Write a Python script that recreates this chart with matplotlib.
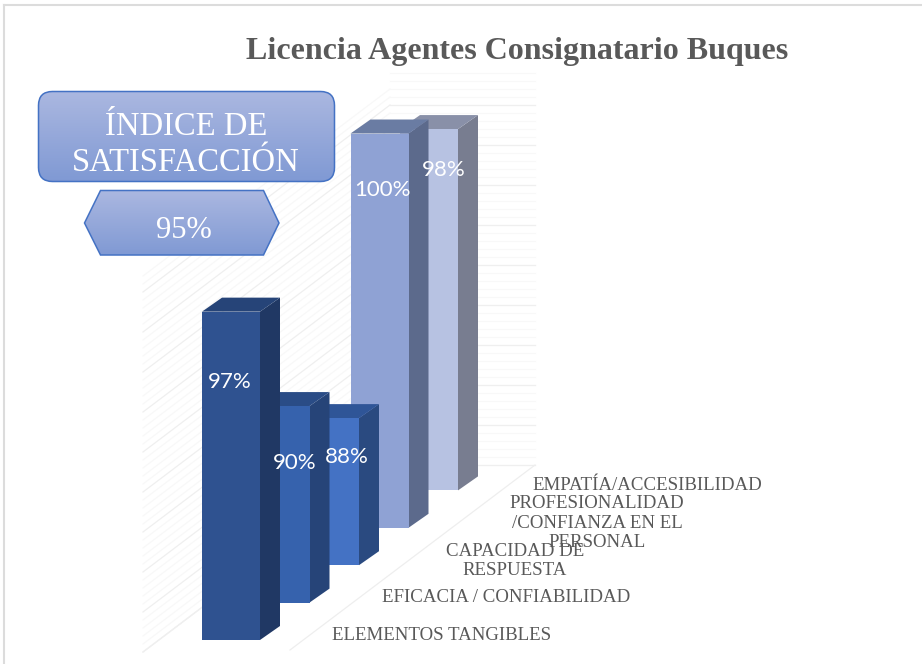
#!/usr/bin/env python
"""Licencia Agentes Consignatario Buques: fake 3D bars drawn on a flat axes."""

import matplotlib
matplotlib.use('Agg')

import matplotlib.pyplot as plt
import numpy as np
from matplotlib.patches import FancyBboxPatch, Polygon, Rectangle

TITLE = 'Licencia Agentes Consignatario Buques'
CATEGORIES = ['ELEMENTOS TANGIBLES', 'EFICACIA / CONFIABILIDAD',
              'CAPACIDAD DE\nRESPUESTA',
              'PROFESIONALIDAD\n/CONFIANZA EN EL\nPERSONAL',
              'EMPATÍA/ACCESIBILIDAD']
VALUES = [96.8, 90.4, 88.0, 100.0, 98.4]
BOX_TEXT = 'ÍNDICE DE\nSATISFACCIÓN'
INDEX_TEXT = '95%'

FRONT = ['#2f5290', '#3662ad', '#4472c4', '#8fa2d4', '#b7c2e2']
SIDE = ['#203864', '#264478', '#2a4a80', '#5c6a8c', '#787d90']
TOP = ['#264478', '#2a4c86', '#2f5597', '#6a7ca3', '#8990a8']
GREY = '#595959'
SERIF = 'Liberation Serif'

# layout of the projection, in pixels of the picture
BAR_W = 58
DEPTH_X, DEPTH_Y = 20, -14
STEP_X, STEP_Y = 49.5, -37.4
FIRST_X, FIRST_Y = 202, 640
PX_PER_POINT = 20.6
BASE_VALUE = 80.86

LABEL_XY = [(230, 382), (295, 463), (347, 457), (382, 190), (444, 170)]
CAT_XY = [(442, 635), (506, 598), (515, 561), (597, 523), (647, 485)]


def value_height(value):
  """Pixel height of a bar front for a value"""
  return (value - BASE_VALUE) * PX_PER_POINT


def draw_walls(ax):
  """Faint back wall, side wall and floor"""
  for i, y_pos in enumerate(np.arange(465, 68, -8)):
    color = '#efefef' if i % 5 == 0 else '#f8f8f8'
    ax.plot([390, 535], [y_pos, y_pos], color=color, lw=0.9, zorder=1)
    if y_pos + 187 > 270:
      ax.plot([143, 390], [y_pos + 187, y_pos], color=color, lw=0.9, zorder=1)
  ax.plot([143, 390], [652, 465], color='#efefef', lw=0.9, zorder=1)
  ax.plot([290, 535], [650, 465], color='#eeeeee', lw=0.9, zorder=1)


def draw_bar(ax, idx, value):
  """One bar: front, side and top faces"""
  left = FIRST_X + idx * STEP_X
  right = left + BAR_W
  bottom = FIRST_Y + idx * STEP_Y
  top = bottom - value_height(value)
  zorder = 10 - idx
  ax.add_patch(Polygon([(right, bottom), (right + DEPTH_X, bottom + DEPTH_Y),
                        (right + DEPTH_X, top + DEPTH_Y), (right, top)],
                       fc=SIDE[idx], ec='none', zorder=zorder))
  ax.add_patch(Polygon([(left, top), (left + DEPTH_X, top + DEPTH_Y),
                        (right + DEPTH_X, top + DEPTH_Y), (right, top)],
                       fc=TOP[idx], ec='none', zorder=zorder))
  ax.add_patch(Rectangle((left, top), BAR_W, bottom - top,
                         fc=FRONT[idx], ec='none', zorder=zorder))


def gradient_patch(ax, patch, y_top, y_bottom):
  """Fill a patch with the pale to mid blue vertical gradient"""
  ax.add_patch(patch)
  grad = np.linspace(0, 1, 128).reshape(-1, 1, 1)
  colors = (1 - grad) * np.array([0.67, 0.72, 0.88]) + grad * np.array([0.50, 0.60, 0.83])
  img = ax.imshow(colors, extent=(0, 922, y_bottom, y_top), aspect='auto', zorder=14)
  img.set_clip_path(patch)


def main():
  fig = plt.figure(figsize=(9.22, 6.64), dpi=100)
  ax = fig.add_axes([0, 0, 1, 1])
  ax.set_axis_off()

  # chart border, only the top and left edges are in the picture
  ax.plot([3.5, 922], [4.5, 4.5], color='#dcdcdc', lw=1.5, zorder=0)
  ax.plot([3.5, 3.5], [4.5, 664], color='#dcdcdc', lw=1.5, zorder=0)
  draw_walls(ax)

  for idx, value in enumerate(VALUES):
    draw_bar(ax, idx, value)
  for (x_pos, y_pos), value in zip(LABEL_XY, VALUES):
    ax.text(x_pos, y_pos, '{:.0f}%'.format(value), color='white', fontsize=16,
            family='Lato', ha='center', va='center', zorder=20)

  for (x_pos, y_pos), cat in zip(CAT_XY, CATEGORIES):
    ax.text(x_pos, y_pos, cat, color=GREY, fontsize=13.6, family=SERIF, ha='center',
            va='center', linespacing=1.2, zorder=20)

  ax.text(517, 52, TITLE, color=GREY, fontsize=23, family=SERIF, weight='bold',
          ha='center', va='center', zorder=20)

  # index boxes
  box = FancyBboxPatch((38.5, 91.5), 296, 90, boxstyle='round,pad=0,rounding_size=14',
                       fc='none', ec='#4472c4', lw=1.1, zorder=15)
  gradient_patch(ax, box, 91, 182)
  ax.text(186, 145, BOX_TEXT, color='white', fontsize=23.5, family=SERIF, ha='center',
          va='center', linespacing=1.25, zorder=20)

  hexagon = Polygon([(84.5, 223), (100.5, 190.5), (263.5, 190.5), (279, 223),
                     (263.5, 255), (100.5, 255)],
                    fc='none', ec='#4472c4', lw=1.1, zorder=15)
  gradient_patch(ax, hexagon, 190, 256)
  ax.text(184, 230, INDEX_TEXT, color='white', fontsize=22, family=SERIF, ha='center',
          va='center', zorder=20)

  ax.set_xlim(0, 922)
  ax.set_ylim(664, 0)
  fig.savefig('out.png', dpi=100)


if __name__ == "__main__":
  main()
